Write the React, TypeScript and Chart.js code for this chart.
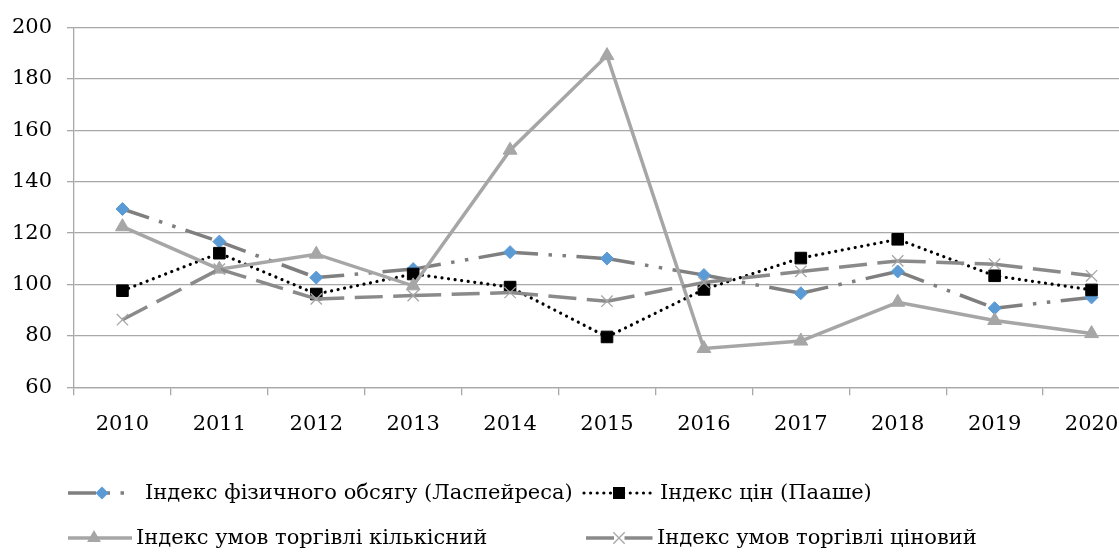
import React, { useEffect, useRef } from "react";
import { Chart, registerables } from "chart.js";

Chart.register(...registerables);

// ---- data ----
const years = ["2010", "2011", "2012", "2013", "2014", "2015", "2016", "2017", "2018", "2019", "2020"];
const laspeyres = [129.4, 116.7, 102.7, 106.0, 112.6, 110.1, 103.7, 96.6, 105.1, 90.8, 95.0];
const paasche = [97.6, 112.2, 96.3, 104.1, 99.0, 79.6, 98.1, 110.3, 117.6, 103.4, 97.9];
const tradeQuantity = [122.5, 106.0, 111.8, 99.5, 152.3, 189.1, 75.1, 78.0, 93.1, 86.0, 80.9];
const tradePrice = [86.3, 106.0, 94.4, 95.7, 96.9, 93.5, 100.8, 105.1, 109.2, 107.9, 103.4];
const seriesNames = [
  "Індекс фізичного обсягу (Ласпейреса)",
  "Індекс цін (Пааше)",
  "Індекс умов торгівлі кількісний",
  "Індекс умов торгівлі ціновий",
];
const yMin = 60;
const yMax = 200;
const yStep = 20;

const FONT = '"DejaVu Serif"';
const GRID = "#a8a8a8";

// restart the dash pattern at every point (as the original does)
const restartDash = {
  borderDashOffset: (ctx: any) => (ctx.p0DataIndex % 2 ? 0.0001 : 0),
};

function drawMarker(ctx: CanvasRenderingContext2D, kind: string, x: number, y: number) {
  ctx.save();
  ctx.setLineDash([]);
  if (kind === "diamond") {
    const r = 6.5;
    ctx.fillStyle = "#5b9bd5";
    ctx.beginPath();
    ctx.moveTo(x, y - r);
    ctx.lineTo(x + r, y);
    ctx.lineTo(x, y + r);
    ctx.lineTo(x - r, y);
    ctx.closePath();
    ctx.fill();
  } else if (kind === "square") {
    ctx.fillStyle = "#000";
    ctx.fillRect(x - 6, y - 6, 12, 12);
  } else if (kind === "triangle") {
    const r = 8;
    ctx.fillStyle = "#a6a6a6";
    ctx.beginPath();
    ctx.moveTo(x, y - r);
    ctx.lineTo(x + r * 0.866, y + r / 2);
    ctx.lineTo(x - r * 0.866, y + r / 2);
    ctx.closePath();
    ctx.fill();
  } else if (kind === "cross") {
    const d = 5.7;
    ctx.strokeStyle = "#a6a6a6";
    ctx.lineWidth = 1.3;
    ctx.beginPath();
    ctx.moveTo(x - d, y - d);
    ctx.lineTo(x + d, y + d);
    ctx.moveTo(x + d, y - d);
    ctx.lineTo(x - d, y + d);
    ctx.stroke();
  }
  ctx.restore();
}

const legendItems = [
  { ds: 0, marker: "diamond", x1: 68, x2: 126, mx: 102, tx: 145, y: 493 },
  { ds: 1, marker: "square", x1: 584, x2: 654, mx: 619, tx: 660, y: 493 },
  { ds: 2, marker: "triangle", x1: 68, x2: 132, mx: 94, tx: 136, y: 538 },
  { ds: 3, marker: "cross", x1: 586, x2: 654, mx: 619, tx: 657, y: 538 },
];

const customLegend = {
  id: "customLegend",
  afterDraw(chart: any) {
    const ctx: CanvasRenderingContext2D = chart.ctx;
    legendItems.forEach((it) => {
      const ds = chart.data.datasets[it.ds];
      ctx.save();
      ctx.strokeStyle = ds.borderColor;
      ctx.lineWidth = ds.borderWidth;
      ctx.lineCap = ds.borderCapStyle || "butt";
      ctx.setLineDash(ds.borderDash || []);
      ctx.beginPath();
      ctx.moveTo(it.x1, it.y);
      ctx.lineTo(it.x2, it.y);
      ctx.stroke();
      ctx.restore();
      drawMarker(ctx, it.marker, it.mx, it.y);
      ctx.save();
      ctx.fillStyle = "#000";
      ctx.font = `21px ${FONT}`;
      ctx.textBaseline = "middle";
      ctx.textAlign = "left";
      ctx.fillText(seriesNames[it.ds], it.tx, it.y + 1);
      ctx.restore();
    });
  },
};

export default function App() {
  const ref = useRef<HTMLCanvasElement | null>(null);

  useEffect(() => {
    document.body.style.margin = "0";
    document.body.style.overflow = "hidden";
    const canvas = ref.current;
    if (!canvas) return;
    const chart = new Chart(canvas, {
      type: "line",
      data: {
        labels: years,
        datasets: [
          {
            label: seriesNames[0],
            data: laspeyres,
            borderColor: "#7f7f7f",
            borderWidth: 3.5,
            borderDash: [28, 10.5, 3.5, 10.5, 3.5, 10.5],
            pointStyle: "rectRot",
            pointRadius: 6.5,
            pointBackgroundColor: "#5b9bd5",
            pointBorderColor: "#5b9bd5",
            pointBorderWidth: 1,
            tension: 0,
            order: 3,
            segment: restartDash,
          } as any,
          {
            label: seriesNames[1],
            data: paasche,
            borderColor: "#000000",
            borderWidth: 3.2,
            borderDash: [0.01, 6.6],
            borderCapStyle: "round",
            pointStyle: "rect",
            pointRadius: 8.2,
            pointBackgroundColor: "#000000",
            pointBorderColor: "#000000",
            pointBorderWidth: 1,
            tension: 0,
            order: 2,
          } as any,
          {
            label: seriesNames[2],
            data: tradeQuantity,
            borderColor: "#a6a6a6",
            borderWidth: 3.5,
            pointStyle: "triangle",
            pointRadius: 8,
            pointBackgroundColor: "#a6a6a6",
            pointBorderColor: "#a6a6a6",
            pointBorderWidth: 1,
            tension: 0,
            order: 1,
          } as any,
          {
            label: seriesNames[3],
            data: tradePrice,
            borderColor: "#8a8a8a",
            borderWidth: 3.5,
            borderDash: [28, 10.5],
            pointStyle: "crossRot",
            pointRadius: 8,
            pointBackgroundColor: "#a6a6a6",
            pointBorderColor: "#a6a6a6",
            pointBorderWidth: 1.3,
            tension: 0,
            order: 0,
            segment: restartDash,
          } as any,
        ],
      },
      options: {
        responsive: false,
        animation: false,
        events: [],
        layout: { autoPadding: false, padding: { top: 25, left: 0, right: 0, bottom: 0 } },
        plugins: {
          legend: { display: false },
          tooltip: { enabled: false },
          title: { display: false },
        },
        scales: {
          x: {
            type: "category",
            offset: true,
            afterFit: (scale: any) => {
              scale.height = 164.7;
            },
            grid: {
              offset: true,
              drawOnChartArea: false,
              drawTicks: true,
              tickLength: 8,
              color: GRID,
              lineWidth: 1.3,
            },
            border: { display: true, color: GRID, width: 1.3 },
            ticks: {
              color: "#000",
              font: { family: FONT, size: 21 },
              padding: 17,
              maxRotation: 0,
              autoSkip: false,
            },
          },
          y: {
            min: yMin,
            max: yMax,
            afterFit: (scale: any) => {
              scale.width = 74;
            },
            grid: {
              color: GRID,
              lineWidth: 1.3,
              drawTicks: true,
              tickLength: 7,
            },
            border: { display: true, color: GRID, width: 1.3 },
            ticks: {
              stepSize: yStep,
              color: "#000",
              font: { family: FONT, size: 21 },
              padding: 15,
            },
          },
        },
      } as any,
      plugins: [customLegend],
    });
    return () => chart.destroy();
  }, []);

  return (
    <div style={{ width: 1119, height: 552, overflow: "hidden", background: "#fff" }}>
      <canvas ref={ref} width={1140} height={552} style={{ display: "block" }} />
    </div>
  );
}
